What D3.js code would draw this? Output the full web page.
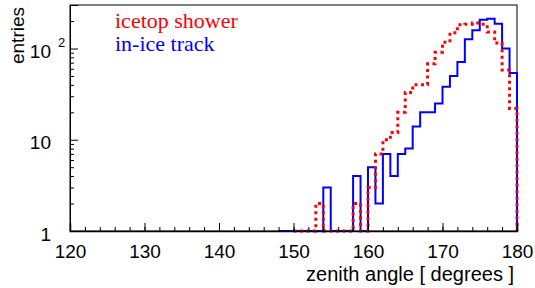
<!DOCTYPE html>
<html>
<head>
<meta charset="utf-8">
<script src="https://cdn.jsdelivr.net/npm/d3@7"></script>
<style>
  body { margin: 0; background: #fff; }
  svg { display: block; }
</style>
</head>
<body>
<script>
// 1 degree bins, lower edge of each bin
let binLow = d3.range(120, 180);

// entries per bin, only the non zero part (bin lower edge -> entries)
let trackCounts = {
  148: 1, 154: 3, 158: 4, 160: 5, 161: 2, 162: 7, 163: 4, 164: 7, 165: 8,
  166: 14, 167: 20, 168: 20, 169: 25, 170: 38, 171: 50, 172: 71, 173: 126,
  174: 159, 175: 207, 176: 212, 177: 187, 178: 100, 179: 54
};
let showerCounts = {
  150: 1, 153: 2, 158: 2, 160: 3, 161: 7, 162: 10, 163: 12, 164: 20, 165: 33,
  166: 40, 167: 40, 168: 68, 169: 91, 170: 117, 171: 149, 172: 182, 173: 185,
  174: 190, 175: 185, 176: 152, 177: 115, 178: 58, 179: 22
};

let xMajor = d3.range(120, 181, 10),
  xMinor = d3.range(120, 181, 2),
  yMajor = [1, 10, 100],
  yMinor = [2, 3, 4, 5, 6, 7, 8, 9, 20, 30, 40, 50, 60, 70, 80, 90, 200];

let trackValues = binLow.map((b) => trackCounts[b] || 0),
  showerValues = binLow.map((b) => showerCounts[b] || 0);

let W = 535, H = 288;
let margin = { top: 5, right: 18, bottom: 57, left: 70 },
  width = W - margin.left - margin.right,
  height = H - margin.top - margin.bottom;

let svg = d3.select("body").append("svg")
  .attr("width", W)
  .attr("height", H);

let g = svg.append("g")
  .attr("transform", "translate(" + margin.left + "," + margin.top + ")");

let x = d3.scaleLinear().domain([120, 180]).range([0, width]);
let y = d3.scaleLog().domain([1, 300]).range([height, 0]);

// frame
g.append("rect")
  .attr("width", width)
  .attr("height", height)
  .attr("fill", "none")
  .attr("stroke", "#000")
  .attr("stroke-width", 1);

// y axis
let yAxis = g.append("g")
  .call(d3.axisLeft(y).tickValues(yMajor).tickSize(-8).tickPadding(19)
    .tickFormat((d) => (d == 100 ? "10" : String(d))));
g.append("g")
  .call(d3.axisLeft(y).tickValues(yMinor).tickSize(-4).tickFormat(""))
  .select(".domain").remove();

yAxis.selectAll("text")
  .attr("font-family", "'Liberation Sans', Arial, sans-serif")
  .attr("font-size", 19)
  .attr("fill", "#000")
  .attr("dy", "0.48em");

// exponent of 10^2
g.append("text")
  .attr("x", -12)
  .attr("y", y(100) - 1.5)
  .attr("font-family", "'Liberation Sans', Arial, sans-serif")
  .attr("font-size", 13)
  .text("2");

// histogram outline, zero bins sit on the bottom
function histPoints(values) {
  let first = values.findIndex((v) => v > 0);
  let pts = [[binLow[first], 0]];
  for (let i = first; i < values.length; i++) {
    pts.push([binLow[i], values[i]]);
    pts.push([binLow[i] + 1, values[i]]);
  }
  pts.push([180, 0]);
  return pts;
}

let line = d3.line()
  .x((d) => x(d[0]))
  .y((d) => (d[1] > 1 ? y(d[1]) : y(1)));

g.append("path")
  .datum(histPoints(trackValues))
  .attr("d", line)
  .attr("fill", "none")
  .attr("stroke", "#0000ff")
  .attr("stroke-width", 2);

g.append("path")
  .datum(histPoints(showerValues))
  .attr("d", line)
  .attr("fill", "none")
  .attr("stroke", "#ff0000")
  .attr("stroke-width", 3)
  .attr("stroke-dasharray", "3,3.5");

// x axis drawn over the histograms, ticks inside
let xAxis = g.append("g")
  .attr("transform", "translate(0," + height + ")")
  .call(d3.axisBottom(x).tickValues(xMajor).tickSize(-8).tickPadding(13.5)
    .tickFormat(d3.format("d")));
g.append("g")
  .attr("transform", "translate(0," + height + ")")
  .call(d3.axisBottom(x).tickValues(xMinor).tickSize(-4).tickFormat(""))
  .select(".domain").remove();

xAxis.select(".domain").attr("stroke-width", 1.5);
xAxis.selectAll("text")
  .attr("font-family", "'Liberation Sans', Arial, sans-serif")
  .attr("font-size", 19)
  .attr("fill", "#000");

g.selectAll(".domain").attr("stroke", "#000");
g.selectAll(".tick line").attr("stroke", "#000");

// titles
svg.append("text")
  .attr("x", 514)
  .attr("y", 281)
  .attr("text-anchor", "end")
  .attr("font-family", "'Liberation Sans', Arial, sans-serif")
  .attr("font-size", 20)
  .text("zenith angle [ degrees ]");

svg.append("text")
  .attr("transform", "translate(24,7) rotate(-90)")
  .attr("text-anchor", "end")
  .attr("font-family", "'Liberation Sans', Arial, sans-serif")
  .attr("font-size", 19)
  .text("entries");

// legend
svg.append("text")
  .attr("x", 115)
  .attr("y", 28)
  .attr("fill", "#ff0000")
  .attr("font-family", "'Liberation Serif', 'Times New Roman', serif")
  .attr("font-size", 22)
  .text("icetop shower");

svg.append("text")
  .attr("x", 115)
  .attr("y", 51)
  .attr("fill", "#0000ff")
  .attr("font-family", "'Liberation Serif', 'Times New Roman', serif")
  .attr("font-size", 22)
  .text("in-ice track");
</script>
</body>
</html>
